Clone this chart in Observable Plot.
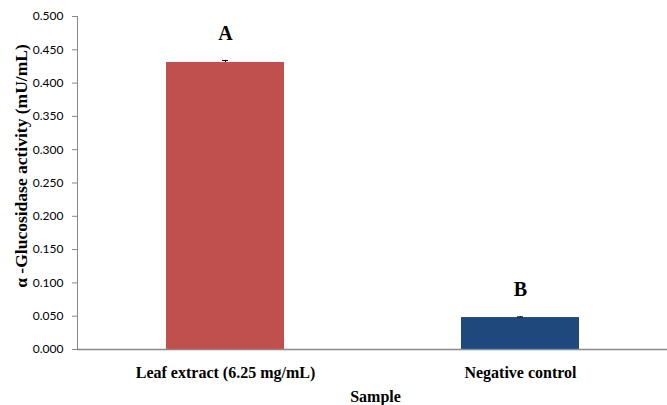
<!DOCTYPE html>
<html><head><meta charset="utf-8">
<script src="https://cdn.jsdelivr.net/npm/d3@7"></script>
<script src="https://cdn.jsdelivr.net/npm/@observablehq/plot@0.6"></script>
<style>body{margin:0;background:#fff}</style>
</head><body><div id="chart"></div>
<script>
const categories = ["Leaf extract (6.25 mg/mL)", "Negative control"];
const values = [0.431, 0.048];
const errors = [0.003, 0.001];
const letters = ["A", "B"];
const colors = ["#C0504D", "#1F497D"];
const yTicks = [0, 0.05, 0.1, 0.15, 0.2, 0.25, 0.3, 0.35, 0.4, 0.45, 0.5];

const data = categories.map((c, i) => ({cat: c, v: values[i], e: errors[i], letter: letters[i], color: colors[i]}));

const chart = Plot.plot({
  width: 667, height: 405,
  marginLeft: 77, marginRight: 0, marginTop: 16, marginBottom: 56,
  style: {fontFamily: "Lato, sans-serif", fontSize: "12px", background: "#fff", color: "#000"},
  x: {domain: categories, paddingInner: 0.6, paddingOuter: 0.3, label: null, axis: null},
  y: {domain: [0, 0.5], ticks: yTicks, tickFormat: d3.format(".3f"), label: null, axis: null},
  marks: [
    Plot.barY(data, {x: "cat", y: "v", fill: d => d.color}),
    Plot.ruleX(data, {x: "cat", y1: "v", y2: d => d.v + d.e, stroke: "#000", strokeWidth: 1}),
    Plot.tickY(data, {x: "cat", y: d => d.v + d.e, stroke: "#000", strokeWidth: 1, insetLeft: 56, insetRight: 56}),
    Plot.text(data, {x: "cat", y: d => d.v + d.e, text: "letter", dy: -27, fontFamily: "Liberation Serif", fontWeight: "bold", fontSize: 20}),
    Plot.axisY({ticks: yTicks, tickFormat: d3.format(".3f"), tickSize: 5, tickPadding: 9, label: null, stroke: "#888", fontSize: 12, fill: "#000"}),
    Plot.frame({anchor: "left", stroke: "#888"}),
    Plot.ruleY([0], {stroke: "#888", strokeWidth: 1.5}),
    Plot.axisX({tickSize: 0, tickPadding: 17, label: null, fontFamily: "Liberation Serif", fontWeight: "bold", fontSize: 16}),
    Plot.text(["Sample"], {frameAnchor: "bottom", dx: 3, dy: 52, fontFamily: "Liberation Serif", fontWeight: "bold", fontSize: 16}),
    Plot.text(["α -Glucosidase activity (mU/mL)"], {frameAnchor: "left", textAnchor: "middle", dx: -56, dy: -17, rotate: -90, fontFamily: "Liberation Serif", fontWeight: "bold", fontSize: 17.5})
  ]
});
document.getElementById("chart").append(chart);
</script>
</body></html>
